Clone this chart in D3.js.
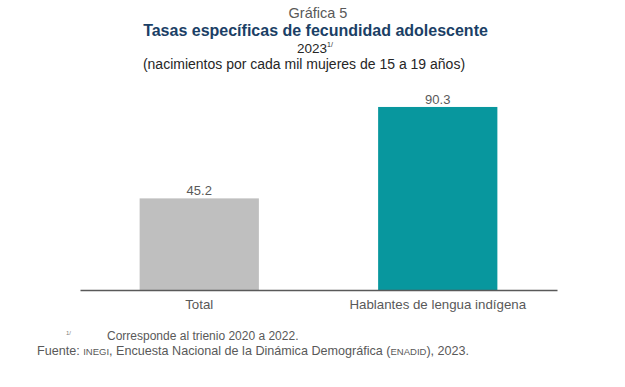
<!DOCTYPE html>
<html>
<head>
<meta charset="utf-8">
<script src="https://cdn.jsdelivr.net/npm/d3@7"></script>
<style>
  body { margin: 0; background: #fff; }
  text { font-family: "Liberation Sans", Arial, sans-serif; }
</style>
</head>
<body>
<div id="container"></div>
<script>
/* CONSTANTS AND GLOBALS */
const width = 625;
const height = 387;
const margin = { top: 90, right: 68, bottom: 97, left: 80 };

// DATA
const categories = ["Total", "Hablantes de lengua indígena"];
const values = [45.2, 90.3];
const barColors = ["#bfbfbf", "#08979e"];

const svg = d3.select("#container")
  .append("svg")
  .attr("width", width)
  .attr("height", height)
  .style("background-color", "white");

/* SCALES */
const xScale = d3.scaleBand()
  .domain(categories)
  .range([margin.left, width - margin.right])
  .paddingInner(0.5)
  .paddingOuter(0.25);

const yScale = d3.scaleLinear()
  .domain([0, 100])
  .range([height - margin.bottom, height - margin.bottom - 100 * 2.027]);

const baseY = height - margin.bottom;

// BARS
svg.selectAll("rect.bars")
  .data(values)
  .join("rect")
  .attr("class", "bars")
  .attr("x", (d, i) => xScale(categories[i]))
  .attr("y", d => yScale(d))
  .attr("width", xScale.bandwidth())
  .attr("height", d => baseY - yScale(d))
  .attr("fill", (d, i) => barColors[i]);

// VALUE LABELS
svg.selectAll("text.vals")
  .data(values)
  .join("text")
  .attr("class", "vals")
  .attr("x", (d, i) => xScale(categories[i]) + xScale.bandwidth() / 2)
  .attr("y", d => yScale(d) - 3)
  .attr("text-anchor", "middle")
  .style("font-size", "13px")
  .attr("fill", "#595959")
  .text(d => d.toFixed(1));

// X AXIS
const xAxis = d3.axisBottom(xScale).tickSize(0).tickPadding(10);
const gx = svg.append("g")
  .attr("class", "axis")
  .attr("transform", "translate(0," + baseY + ")")
  .call(xAxis);
gx.select(".domain").attr("stroke", "#595959").attr("stroke-width", 1.5);
gx.selectAll("text")
  .style("font-size", "13.3px")
  .style("font-family", "Liberation Sans, Arial, sans-serif")
  .attr("fill", "#595959");

// TITLES
svg.append("text")
  .attr("x", 318).attr("y", 18)
  .attr("text-anchor", "middle")
  .style("font-size", "14.5px")
  .attr("fill", "#595959")
  .text("Gráfica 5");

svg.append("text")
  .attr("x", 315.5).attr("y", 36)
  .attr("text-anchor", "middle")
  .style("font-size", "16px")
  .style("font-weight", "bold")
  .attr("fill", "#1b3f66")
  .text("Tasas específicas de fecundidad adolescente");

const yr = svg.append("text")
  .attr("x", 315).attr("y", 52.5)
  .attr("text-anchor", "middle")
  .style("font-size", "13.5px")
  .attr("fill", "#262626");
yr.append("tspan").text("2023");
yr.append("tspan").attr("dy", -6).style("font-size", "7px").text("1/");

svg.append("text")
  .attr("x", 304).attr("y", 68.5)
  .attr("text-anchor", "middle")
  .style("font-size", "14px")
  .attr("fill", "#262626")
  .text("(nacimientos por cada mil mujeres de 15 a 19 años)");

// FOOTNOTES
svg.append("text")
  .attr("x", 66).attr("y", 335)
  .style("font-size", "6px")
  .attr("fill", "#7f7f7f")
  .text("1/");

svg.append("text")
  .attr("x", 107).attr("y", 340)
  .style("font-size", "12px")
  .attr("fill", "#595959")
  .text("Corresponde al trienio 2020 a 2022.");

const src = svg.append("text")
  .attr("x", 37).attr("y", 355)
  .style("font-size", "12.6px")
  .attr("fill", "#595959");
src.append("tspan").text("Fuente: ");
src.append("tspan").style("font-size", "9.5px").text("INEGI");
src.append("tspan").text(", Encuesta Nacional de la Dinámica Demográfica (");
src.append("tspan").style("font-size", "9.5px").text("ENADID");
src.append("tspan").text("), 2023.");
</script>
</body>
</html>
